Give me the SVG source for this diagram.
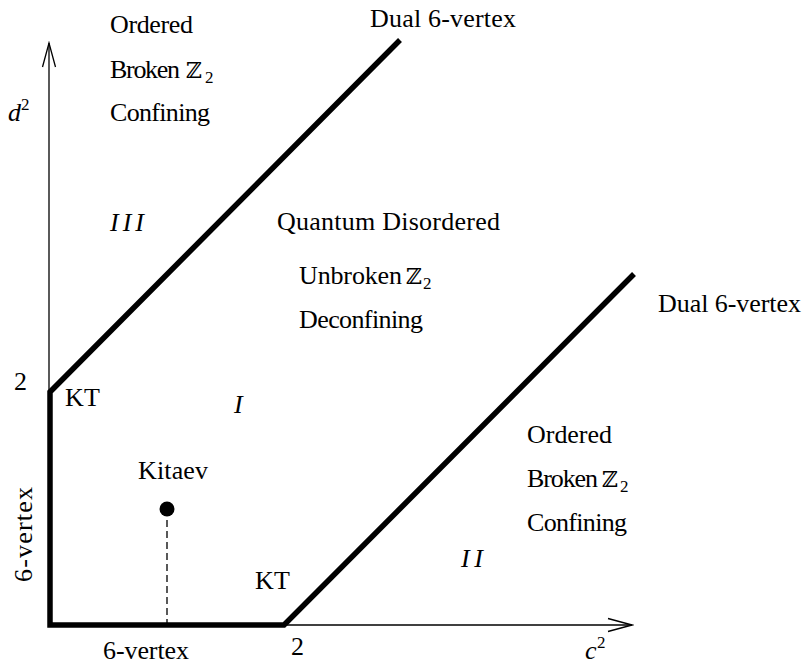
<svg xmlns="http://www.w3.org/2000/svg" width="803" height="667" viewBox="0 0 803 667">
<style>
text{font-size:26px;fill:#000}
.it{font-style:italic}
.sub{font-size:17px}
.zz{font-size:22px}
.axis{stroke:#000;stroke-width:1.3;fill:none}
.thick{stroke:#000;stroke-width:5.5;fill:none;stroke-linejoin:miter;stroke-miterlimit:2}
</style>
<defs>
<marker id="arr" markerUnits="userSpaceOnUse" viewBox="-26 -8 28 16" markerWidth="28" markerHeight="16" refX="0" refY="0" orient="auto">
<path d="M-24,-6.5 L0,0 L-24,6.5" fill="none" stroke="#000" stroke-width="1.3"/>
</marker>
</defs>
<rect width="803" height="667" fill="#fff"/>
<g id="connectors">
<line class="axis" x1="49" y1="625" x2="49" y2="43" marker-end="url(#arr)"/>
<line class="axis" x1="49" y1="625" x2="632" y2="625" marker-end="url(#arr)"/>
<path class="thick" d="M400,40 L50,392 L50,625 L284,625 L634,274"/>
<line x1="167" y1="509" x2="167" y2="623" stroke="#000" stroke-width="1.3" stroke-dasharray="7 4"/>
</g>
<g font-family="'Liberation Serif', 'DejaVu Serif', serif">
<g id="kitaev">
<circle cx="167" cy="509" r="7.5" fill="#000"/>
<text x="138" y="479" textLength="70">Kitaev</text>
</g>
<g id="axis-labels">
<text x="8" y="121" class="it">d</text><text x="21" y="110" class="sub">2</text>
<text x="585" y="659" class="it">c</text><text x="597" y="648" class="sub">2</text>
<text x="14" y="390" font-size="24">2</text>
<text x="291" y="655" font-size="24">2</text>
<text x="103" y="659" textLength="86">6-vertex</text>
<text transform="translate(32,582) rotate(-90)" textLength="95">6-vertex</text>
<text x="370" y="27" textLength="146">Dual 6-vertex</text>
<text x="658" y="312" textLength="143">Dual 6-vertex</text>
<text x="65" y="406" textLength="35">KT</text>
<text x="255" y="589" textLength="35">KT</text>
</g>
<g id="region-III">
<text x="110" y="33" textLength="83">Ordered</text>
<text x="110" y="78" textLength="70">Broken</text><text x="186" y="78" class="zz" font-family="'DejaVu Serif', serif">ℤ</text><text x="205" y="83" class="sub">2</text>
<text x="110" y="121" textLength="100">Confining</text>
<text x="110" y="231" class="it" textLength="34">III</text>
</g>
<g id="region-I">
<text x="277" y="230" textLength="223">Quantum Disordered</text>
<text x="299" y="284" textLength="103">Unbroken</text><text x="406" y="284" class="zz" font-family="'DejaVu Serif', serif">ℤ</text><text x="423" y="289" class="sub">2</text>
<text x="299" y="328" textLength="124">Deconfining</text>
<text x="234" y="413" class="it">I</text>
</g>
<g id="region-II">
<text x="527" y="443" textLength="85">Ordered</text>
<text x="527" y="487" textLength="71">Broken</text><text x="602" y="487" class="zz" font-family="'DejaVu Serif', serif">ℤ</text><text x="620" y="492" class="sub">2</text>
<text x="527" y="531" textLength="100">Confining</text>
<text x="461" y="567" class="it" textLength="22">II</text>
</g>
</g>
</svg>
